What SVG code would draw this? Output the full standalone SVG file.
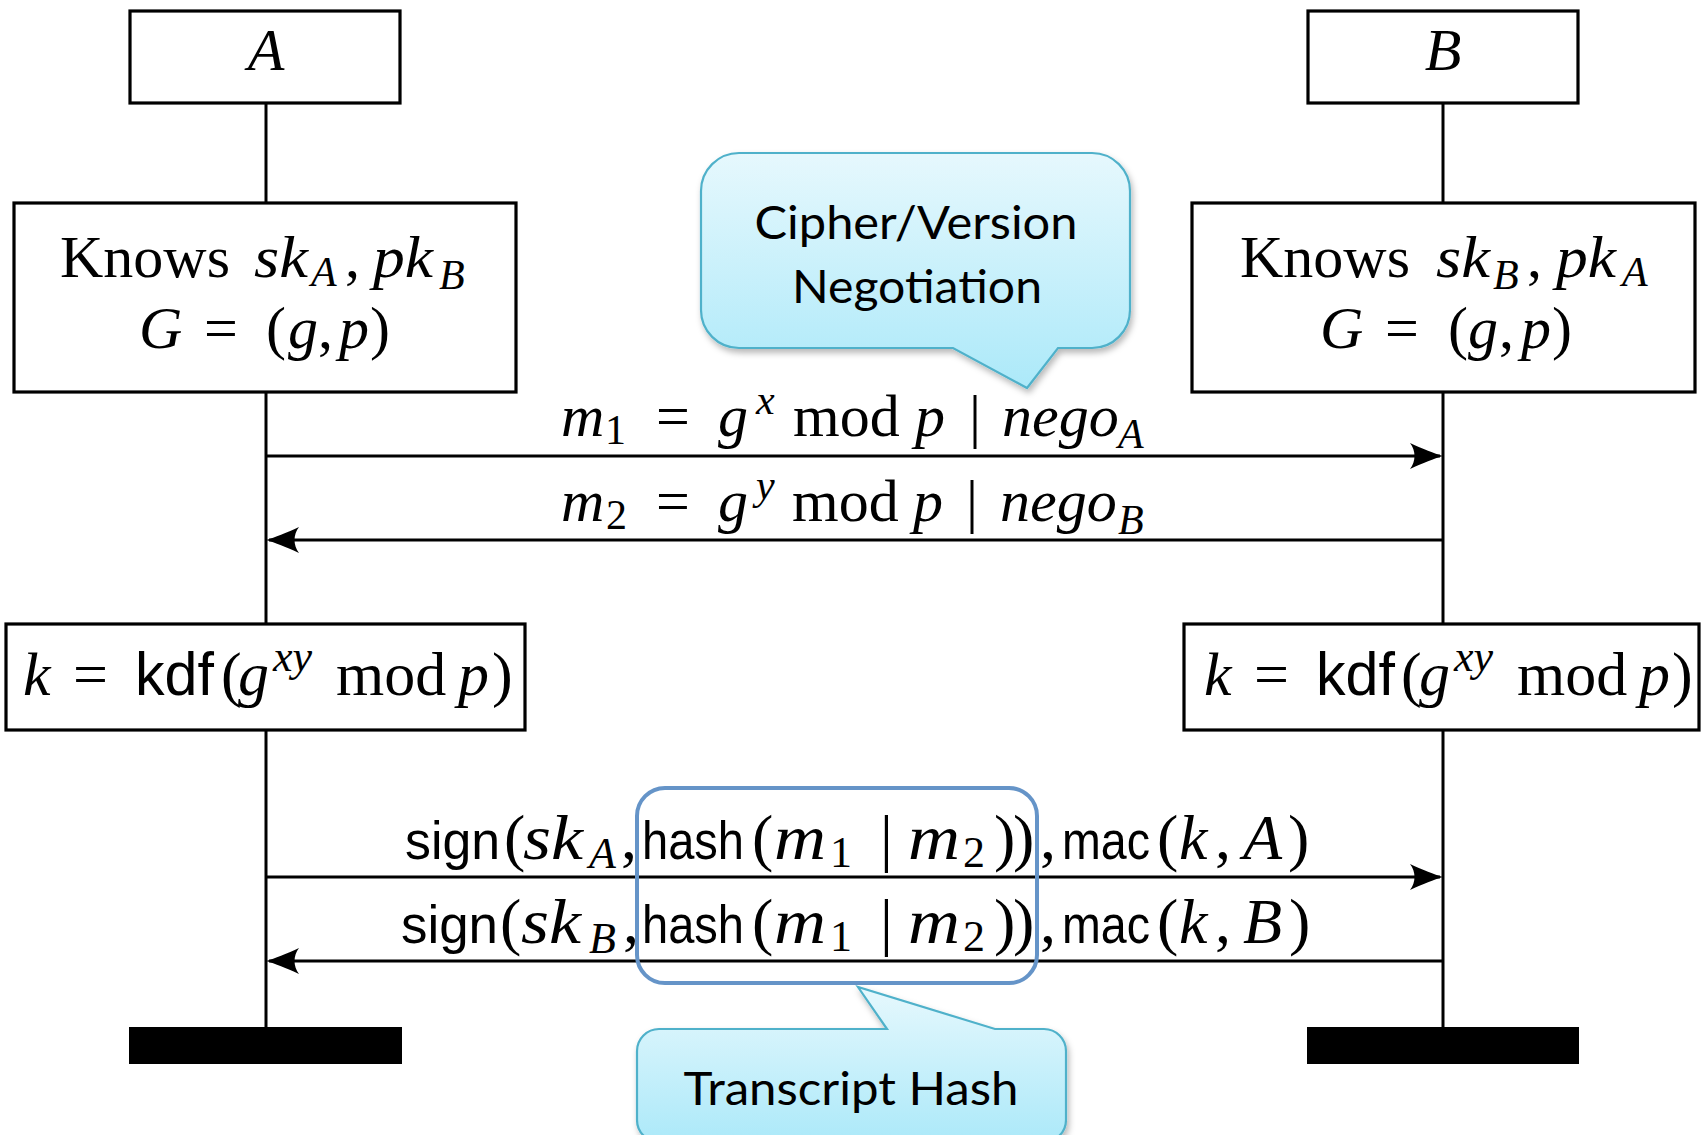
<svg xmlns="http://www.w3.org/2000/svg" width="1701" height="1135" viewBox="0 0 1701 1135">
  <style>
    .box { fill: #ffffff; stroke: #000000; stroke-width: 3.2; }
    .bar { fill: #000000; }
    .life { stroke: #000000; stroke-width: 3; fill: none; }
    .msg { stroke: #000000; stroke-width: 3; fill: none; marker-end: url(#arr); }
    .rm { font-family: "Liberation Serif", "Times New Roman", serif; font-style: normal; }
    .it { font-family: "Liberation Serif", "Times New Roman", serif; font-style: italic; }
    .sf { font-family: "Liberation Sans", Arial, sans-serif; font-style: normal; }
    .t { fill: #000000; font-size: 60px; }
    .t2 { fill: #000000; font-size: 62px; }
    .t3 { fill: #000000; font-size: 64px; }
    .s { font-size: 42px; }
    .s2 { font-size: 44px; }
    .fn { font-size: 54px; }
    .call { fill: url(#callFill); stroke: #4fb1ca; stroke-width: 2.2; filter: url(#shade); }
    .callTxt { font-family: Lato, "Open Sans", "Liberation Sans", sans-serif; font-size: 46px; fill: #000000; text-anchor: middle; }
    .hashBox { fill: none; stroke: #6594c8; stroke-width: 4; }
  </style>
  <defs>
    <linearGradient id="callFill" x1="0" y1="0" x2="0" y2="1">
      <stop offset="0" stop-color="#e6f8fd"/>
      <stop offset="1" stop-color="#ace9f9"/>
    </linearGradient>
    <filter id="shade" x="-10%" y="-10%" width="125%" height="130%">
      <feDropShadow dx="2" dy="4" stdDeviation="3" flood-color="#000000" flood-opacity="0.28"/>
    </filter>
    <marker id="arr" markerUnits="userSpaceOnUse" viewBox="-36 -15 40 30" markerWidth="40" markerHeight="30" refX="-3" refY="0" orient="auto">
      <path d="M0,0 C-9,-2.5 -20,-7 -33,-13 C-27,-5 -27,5 -33,13 C-20,7 -9,2.5 0,0 Z" fill="#000000"/>
    </marker>
  </defs>

  <rect width="1701" height="1135" fill="#ffffff"/>

  <!-- lifelines and messages -->
  <g id="connectors">
    <line class="life" x1="266" y1="103" x2="266" y2="203"/>
    <line class="life" x1="266" y1="392" x2="266" y2="624"/>
    <line class="life" x1="266" y1="730" x2="266" y2="1027"/>
    <line class="life" x1="1443" y1="103" x2="1443" y2="203"/>
    <line class="life" x1="1443" y1="392" x2="1443" y2="624"/>
    <line class="life" x1="1443" y1="730" x2="1443" y2="1027"/>
    <line class="msg" x1="266" y1="456" x2="1440" y2="456"/>
    <line class="msg" x1="1443" y1="540" x2="269" y2="540"/>
    <line class="msg" x1="266" y1="877" x2="1440" y2="877"/>
    <line class="msg" x1="1443" y1="961" x2="269" y2="961"/>
  </g>

  <!-- party A -->
  <g id="partyA">
    <rect class="box" x="130" y="11" width="270" height="92"/>
    <text class="it t" x="266" y="70" font-size="62" text-anchor="middle">A</text>
  </g>
  <g id="knowsA">
    <rect class="box" x="14" y="203" width="502" height="189"/>
    <text class="t" y="277">
      <tspan class="rm" x="60">Knows</tspan>
      <tspan class="it" x="254" textLength="54" lengthAdjust="spacingAndGlyphs">sk</tspan>
      <tspan class="it s" x="311" y="286">A</tspan>
      <tspan class="rm" x="345" y="277">,</tspan>
      <tspan class="it" x="373" textLength="60" lengthAdjust="spacingAndGlyphs">pk</tspan>
      <tspan class="it s" x="439" y="289">B</tspan>
    </text>
    <text class="t" y="348">
      <tspan class="it" x="139">G</tspan>
      <tspan class="rm" x="204">=</tspan>
      <tspan class="rm" x="266">(</tspan>
      <tspan class="it" x="288">g</tspan>
      <tspan class="rm" x="318">,</tspan>
      <tspan class="it" x="339">p</tspan>
      <tspan class="rm" x="370">)</tspan>
    </text>
  </g>
  <g id="keyA">
    <rect class="box" x="6" y="624" width="519" height="106"/>
    <text class="t2" y="695">
      <tspan class="it" x="23">k</tspan>
      <tspan class="rm" x="73">=</tspan>
      <tspan class="sf" x="135" textLength="79" lengthAdjust="spacingAndGlyphs">kdf</tspan>
      <tspan class="rm" x="221">(</tspan>
      <tspan class="it" x="238">g</tspan>
      <tspan class="it s2" x="273" y="671">xy</tspan>
      <tspan class="rm" x="336" y="695">mod</tspan>
      <tspan class="it" x="458">p</tspan>
      <tspan class="rm" x="492">)</tspan>
    </text>
  </g>
  <g id="endA">
    <rect class="bar" x="129" y="1027" width="273" height="37"/>
  </g>

  <!-- party B -->
  <g id="partyB">
    <rect class="box" x="1308" y="11" width="270" height="92"/>
    <text class="it t" x="1443" y="70" font-size="62" text-anchor="middle">B</text>
  </g>
  <g id="knowsB">
    <rect class="box" x="1192" y="203" width="503" height="189"/>
    <text class="t" y="277">
      <tspan class="rm" x="1240">Knows</tspan>
      <tspan class="it" x="1436" textLength="54" lengthAdjust="spacingAndGlyphs">sk</tspan>
      <tspan class="it s" x="1493" y="289">B</tspan>
      <tspan class="rm" x="1527" y="277">,</tspan>
      <tspan class="it" x="1556" textLength="60" lengthAdjust="spacingAndGlyphs">pk</tspan>
      <tspan class="it s" x="1622" y="286">A</tspan>
    </text>
    <text class="t" y="348">
      <tspan class="it" x="1320">G</tspan>
      <tspan class="rm" x="1385">=</tspan>
      <tspan class="rm" x="1448">(</tspan>
      <tspan class="it" x="1468">g</tspan>
      <tspan class="rm" x="1499">,</tspan>
      <tspan class="it" x="1521">p</tspan>
      <tspan class="rm" x="1552">)</tspan>
    </text>
  </g>
  <g id="keyB">
    <rect class="box" x="1184" y="624" width="515" height="106"/>
    <text class="t2" y="695">
      <tspan class="it" x="1204">k</tspan>
      <tspan class="rm" x="1254">=</tspan>
      <tspan class="sf" x="1316" textLength="79" lengthAdjust="spacingAndGlyphs">kdf</tspan>
      <tspan class="rm" x="1401">(</tspan>
      <tspan class="it" x="1419">g</tspan>
      <tspan class="it s2" x="1454" y="671">xy</tspan>
      <tspan class="rm" x="1517" y="695">mod</tspan>
      <tspan class="it" x="1639">p</tspan>
      <tspan class="rm" x="1672">)</tspan>
    </text>
  </g>
  <g id="endB">
    <rect class="bar" x="1307" y="1027" width="272" height="37"/>
  </g>

  <!-- message labels -->
  <g id="msg1">
    <text class="t" y="436">
      <tspan class="it" x="561">m</tspan>
      <tspan class="rm s" x="605" y="444">1</tspan>
      <tspan class="rm" x="656" y="436">=</tspan>
      <tspan class="it" x="718">g</tspan>
      <tspan class="it s" x="756" y="414">x</tspan>
      <tspan class="rm" x="793" y="436">mod</tspan>
      <tspan class="it" x="915">p</tspan>
      <tspan class="rm" x="969">|</tspan>
      <tspan class="it" x="1002">nego</tspan>
      <tspan class="it s" x="1118" y="448">A</tspan>
    </text>
  </g>
  <g id="msg2">
    <text class="t" y="521">
      <tspan class="it" x="561">m</tspan>
      <tspan class="rm s" x="606" y="529">2</tspan>
      <tspan class="rm" x="656" y="521">=</tspan>
      <tspan class="it" x="718">g</tspan>
      <tspan class="it s" x="756" y="499">y</tspan>
      <tspan class="rm" x="792" y="521">mod</tspan>
      <tspan class="it" x="913">p</tspan>
      <tspan class="rm" x="966">|</tspan>
      <tspan class="it" x="1000">nego</tspan>
      <tspan class="it s" x="1118" y="534">B</tspan>
    </text>
  </g>
  <g id="msg3">
    <text class="t3" y="859">
      <tspan class="sf fn" x="405" textLength="95" lengthAdjust="spacingAndGlyphs">sign</tspan>
      <tspan class="rm" x="504">(</tspan>
      <tspan class="it" x="523" textLength="60" lengthAdjust="spacingAndGlyphs">sk</tspan>
      <tspan class="it s2" x="589" y="868">A</tspan>
      <tspan class="rm" x="621" y="859">,</tspan>
      <tspan class="sf fn" x="642" textLength="102" lengthAdjust="spacingAndGlyphs">hash</tspan>
      <tspan class="rm" x="752">(</tspan>
      <tspan class="it" x="774" textLength="52" lengthAdjust="spacingAndGlyphs">m</tspan>
      <tspan class="rm s2" x="830" y="867">1</tspan>
      <tspan class="rm" x="880" y="859">|</tspan>
      <tspan class="it" x="908" textLength="52" lengthAdjust="spacingAndGlyphs">m</tspan>
      <tspan class="rm s2" x="963" y="867">2</tspan>
      <tspan class="rm" x="994" y="859">)</tspan>
      <tspan class="rm" x="1013">)</tspan>
      <tspan class="rm" x="1040">,</tspan>
      <tspan class="sf fn" x="1062" textLength="88" lengthAdjust="spacingAndGlyphs">mac</tspan>
      <tspan class="rm" x="1157">(</tspan>
      <tspan class="it" x="1179">k</tspan>
      <tspan class="rm" x="1215">,</tspan>
      <tspan class="it" x="1243">A</tspan>
      <tspan class="rm" x="1288">)</tspan>
    </text>
  </g>
  <g id="msg4">
    <text class="t3" y="943">
      <tspan class="sf fn" x="401" textLength="97" lengthAdjust="spacingAndGlyphs">sign</tspan>
      <tspan class="rm" x="500">(</tspan>
      <tspan class="it" x="521" textLength="60" lengthAdjust="spacingAndGlyphs">sk</tspan>
      <tspan class="it s2" x="589" y="953">B</tspan>
      <tspan class="rm" x="623" y="943">,</tspan>
      <tspan class="sf fn" x="642" textLength="102" lengthAdjust="spacingAndGlyphs">hash</tspan>
      <tspan class="rm" x="752">(</tspan>
      <tspan class="it" x="774" textLength="52" lengthAdjust="spacingAndGlyphs">m</tspan>
      <tspan class="rm s2" x="830" y="951">1</tspan>
      <tspan class="rm" x="880" y="943">|</tspan>
      <tspan class="it" x="908" textLength="52" lengthAdjust="spacingAndGlyphs">m</tspan>
      <tspan class="rm s2" x="963" y="951">2</tspan>
      <tspan class="rm" x="994" y="943">)</tspan>
      <tspan class="rm" x="1013">)</tspan>
      <tspan class="rm" x="1040">,</tspan>
      <tspan class="sf fn" x="1062" textLength="88" lengthAdjust="spacingAndGlyphs">mac</tspan>
      <tspan class="rm" x="1157">(</tspan>
      <tspan class="it" x="1179">k</tspan>
      <tspan class="rm" x="1215">,</tspan>
      <tspan class="it" x="1243">B</tspan>
      <tspan class="rm" x="1289">)</tspan>
    </text>
  </g>

  <!-- transcript outline -->
  <g id="transcriptBox">
    <rect class="hashBox" x="637" y="788" width="400" height="195" rx="28" ry="28"/>
  </g>

  <!-- callouts -->
  <g id="calloutNegotiation">
    <path class="call" d="M739,153 H1092 A38,38 0 0 1 1130,191 V310 A38,38 0 0 1 1092,348 H1058 L1027,388 L953,348 H739 A38,38 0 0 1 701,310 V191 A38,38 0 0 1 739,153 Z"/>
    <text class="callTxt" x="916" y="239" textLength="323" lengthAdjust="spacingAndGlyphs">Cipher/Version</text>
    <text class="callTxt" x="917" y="303" textLength="250" lengthAdjust="spacingAndGlyphs">Negotiation</text>
  </g>
  <g id="calloutTranscript">
    <path class="call" d="M659,1029 H887 L858,987 L995,1029 H1044 A22,22 0 0 1 1066,1051 V1120 A22,22 0 0 1 1044,1142 H659 A22,22 0 0 1 637,1120 V1051 A22,22 0 0 1 659,1029 Z"/>
    <text class="callTxt" x="851" y="1105" textLength="335" lengthAdjust="spacingAndGlyphs">Transcript Hash</text>
  </g>
</svg>
